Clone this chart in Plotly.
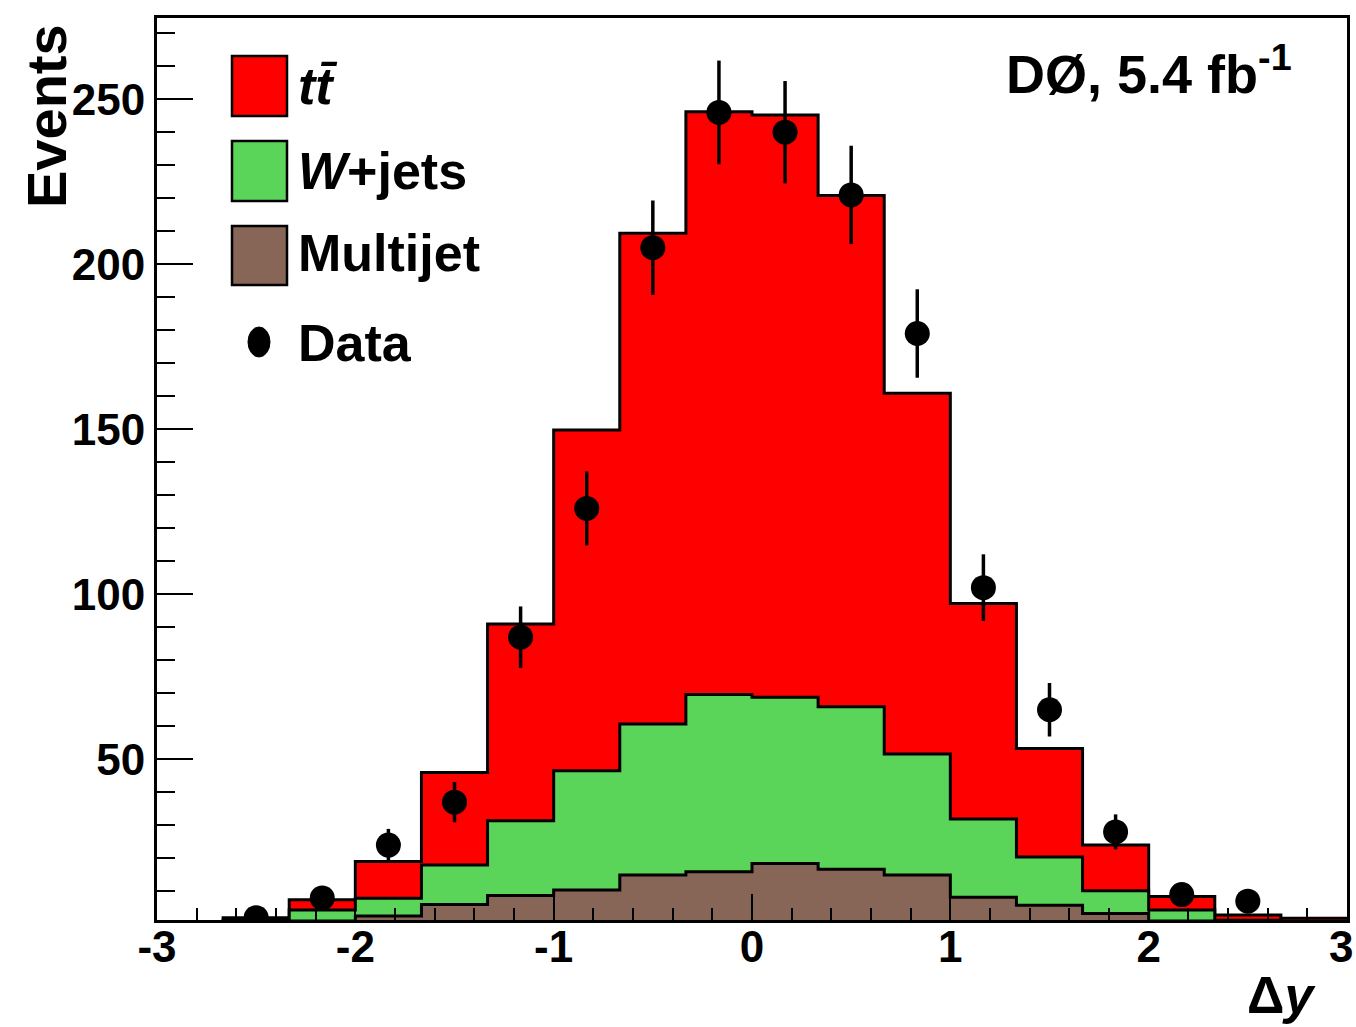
import numpy as np
import plotly.graph_objects as go

# ---- data ----
bin_edges = np.linspace(-3, 3, 19)
total_mc = [0, 2.0, 7.4, 19.0, 46.0, 91.0, 149.8, 209.4, 246.2, 245.2, 220.8, 160.9, 97.2, 53.3, 24.0, 8.4, 2.8, 1.8]
wjets_plus_multijet = [0, 1.2, 4.3, 7.9, 18.0, 31.4, 46.5, 60.7, 69.6, 68.8, 65.9, 51.6, 31.9, 20.4, 10.2, 4.3, 1.2, 0.8]
multijet = [0, 0.5, 1.0, 2.5, 6.0, 8.7, 10.4, 14.9, 15.9, 18.4, 16.7, 14.9, 8.2, 5.8, 3.3, 1.0, 0.5, 0.3]

data_x = [-2.5, -2.1667, -1.8333, -1.5, -1.1667, -0.8333, -0.5, -0.1667,
          0.1667, 0.5, 0.8333, 1.1667, 1.5, 1.8333, 2.1667, 2.5]
data_y = [2, 8, 24, 37, 87, 126, 205, 246, 240, 221, 179, 102, 65, 28, 9, 7]
data_err = [1.4, 2.8, 4.9, 6.1, 9.3, 11.2, 14.3, 15.7, 15.5, 14.9, 13.4, 10.1, 8.1, 5.3, 3.0, 2.6]

# last x label ("3") sits on the right edge; it is drawn as an annotation so it stays inside the page
x_tick_vals = [-3, -2, -1, 0, 1, 2, 3]
x_tick_text = ["-3", "-2", "-1", "0", "1", "2", ""]
x_edge_label = "3"
y_tick_vals = [50, 100, 150, 200, 250]
y_tick_text = ["50", "100", "150", "200", "250"]

legend_labels = ["<i>tt\u0304</i>", "<i>W</i>+jets", "Multijet", "Data"]
fill_colors = ["#FF0000", "#5AD55A", "#876657"]

FONT = "Liberation Sans, Arial, sans-serif"

W, H = 1356, 1027
L, R, T, B = 157, 1347, 18, 920


def px(x):
    return (x - L) / (R - L)


def py(y):
    return (B - y) / (B - T)


fig = go.Figure()

for vals, col in zip([total_mc, wjets_plus_multijet, multijet], fill_colors):
    fig.add_trace(go.Scatter(
        x=list(bin_edges), y=list(vals) + [vals[-1]],
        mode="lines", line=dict(shape="hv", color="black", width=3),
        fill="tozeroy", fillcolor=col, showlegend=False, hoverinfo="skip"))

fig.add_trace(go.Scatter(
    x=data_x, y=data_y, mode="markers",
    marker=dict(color="black", size=25, symbol="circle"),
    error_y=dict(type="data", array=data_err, visible=True, color="black",
                 thickness=3.5, width=0),
    showlegend=False))

tickfont = dict(family=FONT, size=44, color="black", weight="bold")

fig.update_xaxes(
    range=[-3, 3], tickmode="array", tickvals=x_tick_vals, ticktext=x_tick_text,
    ticks="inside", ticklen=26, tickwidth=2, tickcolor="black",
    minor=dict(ticks="inside", dtick=0.2, tick0=-3, ticklen=12, tickwidth=2, tickcolor="black"),
    showgrid=False, zeroline=False, showline=True, linecolor="black", linewidth=3,
    mirror=True, tickfont=tickfont, automargin=False, ticklabelstandoff=-14,
    ticklabeloverflow="allow")
fig.update_yaxes(
    range=[1.3, 274.6], tickmode="array", tickvals=y_tick_vals, ticktext=y_tick_text,
    ticks="inside", ticklen=36, tickwidth=2, tickcolor="black",
    minor=dict(ticks="inside", dtick=10, tick0=0, ticklen=18, tickwidth=2, tickcolor="black"),
    showgrid=False, zeroline=False, showline=True, linecolor="black", linewidth=3,
    mirror=True, tickfont=tickfont, automargin=False, ticklabeloverflow="allow")

shapes = []
# legend boxes
for (y0, y1), col in zip([(56, 116), (141, 201), (226, 285)], fill_colors):
    shapes.append(dict(type="rect", xref="paper", yref="paper",
                       x0=px(232), x1=px(287), y0=py(y1), y1=py(y0),
                       fillcolor=col, line=dict(color="black", width=2.5), layer="above"))
shapes.append(dict(type="circle", xref="paper", yref="paper",
                   x0=px(248), x1=px(270), y0=py(357), y1=py(327),
                   fillcolor="black", line=dict(color="black", width=1), layer="above"))

annotations = []
for txt, yc in zip(legend_labels, [86, 171, 253, 343]):
    annotations.append(dict(text=txt, xref="paper", yref="paper", x=px(296), y=py(yc),
                            xanchor="left", yanchor="middle", showarrow=False,
                            font=dict(family=FONT, size=52, color="black", weight="bold")))

annotations.append(dict(text="DØ, 5.4 fb<sup>-1</sup>", xref="paper", yref="paper",
                        x=px(1294), y=py(70), xanchor="right", yanchor="middle", showarrow=False,
                        font=dict(family=FONT, size=54, color="black", weight="bold")))
annotations.append(dict(text="Events", xref="paper", yref="paper", x=px(46), y=py(116),
                        xanchor="center", yanchor="middle", textangle=-90, showarrow=False,
                        font=dict(family=FONT, size=56, color="black", weight="bold")))
annotations.append(dict(text="Δ<i>y</i>", xref="paper", yref="paper", x=px(1318), y=py(995),
                        xanchor="right", yanchor="middle", showarrow=False,
                        font=dict(family=FONT, size=52, color="black", weight="bold")))
annotations.append(dict(text=x_edge_label, xref="paper", yref="paper", x=px(1355), y=py(946),
                        xanchor="right", yanchor="middle", showarrow=False,
                        font=tickfont))

fig.update_layout(
    width=W, height=H, margin=dict(l=L, r=W - R, t=T, b=H - B),
    paper_bgcolor="white", plot_bgcolor="white",
    shapes=shapes, annotations=annotations, showlegend=False)

fig.write_html("out.html", config={"displayModeBar": False},
               post_script="document.body.style.margin='0';document.body.style.padding='0';")
